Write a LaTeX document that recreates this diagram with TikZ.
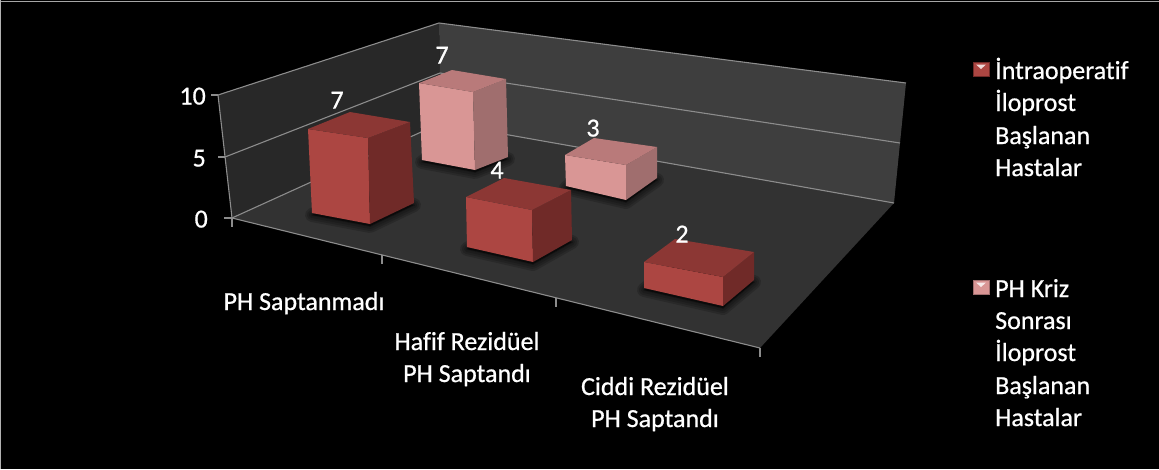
\documentclass[tikz,border=0pt]{standalone}
\usepackage{fontspec}
\setmainfont{Carlito}
\newfontfamily\chartfont{Carlito}[Ligatures=NoCommon, RawFeature={embolden=0.7}]
\definecolor{wallleft}{RGB}{40,40,40}
\definecolor{wallback}{RGB}{62,62,62}
\definecolor{floorc}{RGB}{50,50,50}
\definecolor{gridc}{RGB}{140,140,140}
\definecolor{redfront}{RGB}{172,70,66}
\definecolor{redtop}{RGB}{140,55,52}
\definecolor{redside}{RGB}{112,42,40}
\definecolor{pinkfront}{RGB}{217,150,149}
\definecolor{pinktop}{RGB}{185,122,122}
\definecolor{pinkside}{RGB}{160,110,110}
\tikzset{
  gridline/.style={draw=gridc, line width=1.1pt},
  tickmark/.style={draw=gridc, line width=1.6pt},
  txt/.style={text=white, inner sep=0pt, font=\chartfont\fontsize{26}{32.5}\selectfont},
  shadowring/.style={draw=black, line join=round, opacity=0.16, fill=black, fill opacity=0.16},
}
\begin{document}
\begin{tikzpicture}[x=1pt,y=-1pt]
\useasboundingbox (0,0) rectangle (1159,469);
\fill[black] (0,0) rectangle (1159,469);
\draw[gray!70, line width=1pt] (0,1.5) -- (1159,1.5);
\draw[gray!60, line width=1pt] (0.5,0) -- (0.5,469);

% wall and floor corners
\coordinate (lwtop) at (218,95);
\coordinate (lwmid) at (225,157);
\coordinate (lwbot) at (232,218);
\coordinate (bltop) at (439,23);
\coordinate (blmid) at (440,73);
\coordinate (blbot) at (441,123);
\coordinate (brtop) at (906,83);
\coordinate (brmid) at (900,143);
\coordinate (brbot) at (894,203);
\coordinate (frbot) at (760,348);

% walls and floor
\fill[wallleft] (lwtop) -- (lwbot) -- (blbot) -- (bltop) -- cycle;
\fill[wallback] (bltop) -- (brtop) -- (brbot) -- (blbot) -- cycle;
\fill[floorc] (lwbot) -- (frbot) -- (brbot) -- (blbot) -- cycle;

% gridlines
\draw[gridline] (lwtop) -- (bltop) -- (brtop);
\draw[gridline] (lwmid) -- (blmid) -- (brmid);
\draw[gridline] (lwbot) -- (blbot) -- (brbot);
\draw[gridline] (lwtop) -- (lwbot) -- (frbot);

% axis ticks
\draw[tickmark] (211,95) -- (lwtop);
\draw[tickmark] (218,157) -- (lwmid);
\draw[tickmark] (224,218) -- (lwbot);
\draw[tickmark] (lwbot) -- ++(0,9);
\coordinate (c1) at (382,255);
\coordinate (c2) at (556,298);
\draw[tickmark] (c1) -- ++(0,9);
\draw[tickmark] (c2) -- ++(0,9);
\draw[tickmark] (frbot) -- ++(0,9);

% soft shadows on the floor
\foreach \w in {14,10,6,2}{
  \draw[shadowring, line width=\w pt] (422,162) -- (475,172) -- (508,159) -- (455,149) -- cycle;
  \draw[shadowring, line width=\w pt] (566,188) -- (626,202) -- (657,180) -- (597,166) -- cycle;
  \draw[shadowring, line width=\w pt] (312,215) -- (370,226) -- (414,205) -- (356,194) -- cycle;
  \draw[shadowring, line width=\w pt] (467,249) -- (533,264) -- (572,242) -- (506,227) -- cycle;
  \draw[shadowring, line width=\w pt] (644,290) -- (723,308) -- (754,282) -- (675,264) -- cycle;
}

% back row columns
\fill[pinkfront] (419,83) -- (422,160) -- (475,170) -- (473,92) -- cycle;
\fill[pinkside] (473,92) -- (475,170) -- (508,157) -- (506,79) -- cycle;
\fill[pinktop] (419,83) -- (473,92) -- (506,79) -- (452,70) -- cycle;

\fill[pinkfront] (565,155) -- (566,186) -- (626,200) -- (626,165) -- cycle;
\fill[pinkside] (626,165) -- (626,200) -- (657,178) -- (657,147) -- cycle;
\fill[pinktop] (565,155) -- (626,165) -- (657,147) -- (594,138) -- cycle;

% front row columns
\fill[redfront] (308,129) -- (312,213) -- (370,224) -- (368,138) -- cycle;
\fill[redside] (368,138) -- (370,224) -- (414,203) -- (410,122) -- cycle;
\fill[redtop] (308,129) -- (368,138) -- (410,122) -- (350,112) -- cycle;

\fill[redfront] (466,197) -- (467,247) -- (533,262) -- (532,210) -- cycle;
\fill[redside] (532,210) -- (533,262) -- (572,240) -- (571,190) -- cycle;
\fill[redtop] (466,197) -- (532,210) -- (571,190) -- (504,178) -- cycle;

\fill[redfront] (644,262) -- (644,288) -- (723,306) -- (723,277) -- cycle;
\fill[redside] (723,277) -- (723,306) -- (754,280) -- (754,252) -- cycle;
\fill[redtop] (644,262) -- (723,277) -- (754,252) -- (675,239) -- cycle;

% value labels
\node[txt, anchor=base] (v1) at (337,108.5) {7};
\node[txt, anchor=base] (v2) at (442,63.5) {7};
\node[txt, anchor=base] (v3) at (497,178.5) {4};
\node[txt, anchor=base] (v4) at (593,136.5) {3};
\node[txt, anchor=base] (v5) at (682,242.5) {2};

% vertical axis labels
\node[txt, anchor=base east] (y10) at (206,104.5) {10};
\node[txt, anchor=base east] (y5) at (206,166.5) {5};
\node[txt, anchor=base east] (y0) at (208,227.5) {0};

% category labels
\node[txt, anchor=base] (k1) at (304,310) {PH Saptanmadı};
\node[txt, anchor=base] (k2a) at (467,350) {Hafif Rezidüel};
\node[txt, anchor=base] (k2b) at (467,382) {PH Saptandı};
\node[txt, anchor=base] (k3a) at (655,395) {Ciddi Rezidüel};
\node[txt, anchor=base] (k3b) at (655,427) {PH Saptandı};

% legend
\fill[redfront, draw=redside, line width=0.8pt] (973,62) rectangle (989,76);
\fill[white!80!redfront] (976,64.5) -- (986,64.5) -- (981,69) -- cycle;
\node[txt, anchor=base west] (l1a) at (995,79) {İntraoperatif};
\node[txt, anchor=base west] (l1b) at (995,111) {İloprost};
\node[txt, anchor=base west] (l1c) at (995,144) {Başlanan};
\node[txt, anchor=base west] (l1d) at (995,176) {Hastalar};

\fill[pinkfront, draw=pinkside, line width=0.8pt] (973,280) rectangle (989,294);
\fill[white!80!pinkfront] (976,282.5) -- (986,282.5) -- (981,287) -- cycle;
\node[txt, anchor=base west] (l2a) at (995,297) {PH Kriz};
\node[txt, anchor=base west] (l2b) at (995,329) {Sonrası};
\node[txt, anchor=base west] (l2c) at (995,361) {İloprost};
\node[txt, anchor=base west] (l2d) at (995,394) {Başlanan};
\node[txt, anchor=base west] (l2e) at (995,426) {Hastalar};
\end{tikzpicture}
\end{document}
